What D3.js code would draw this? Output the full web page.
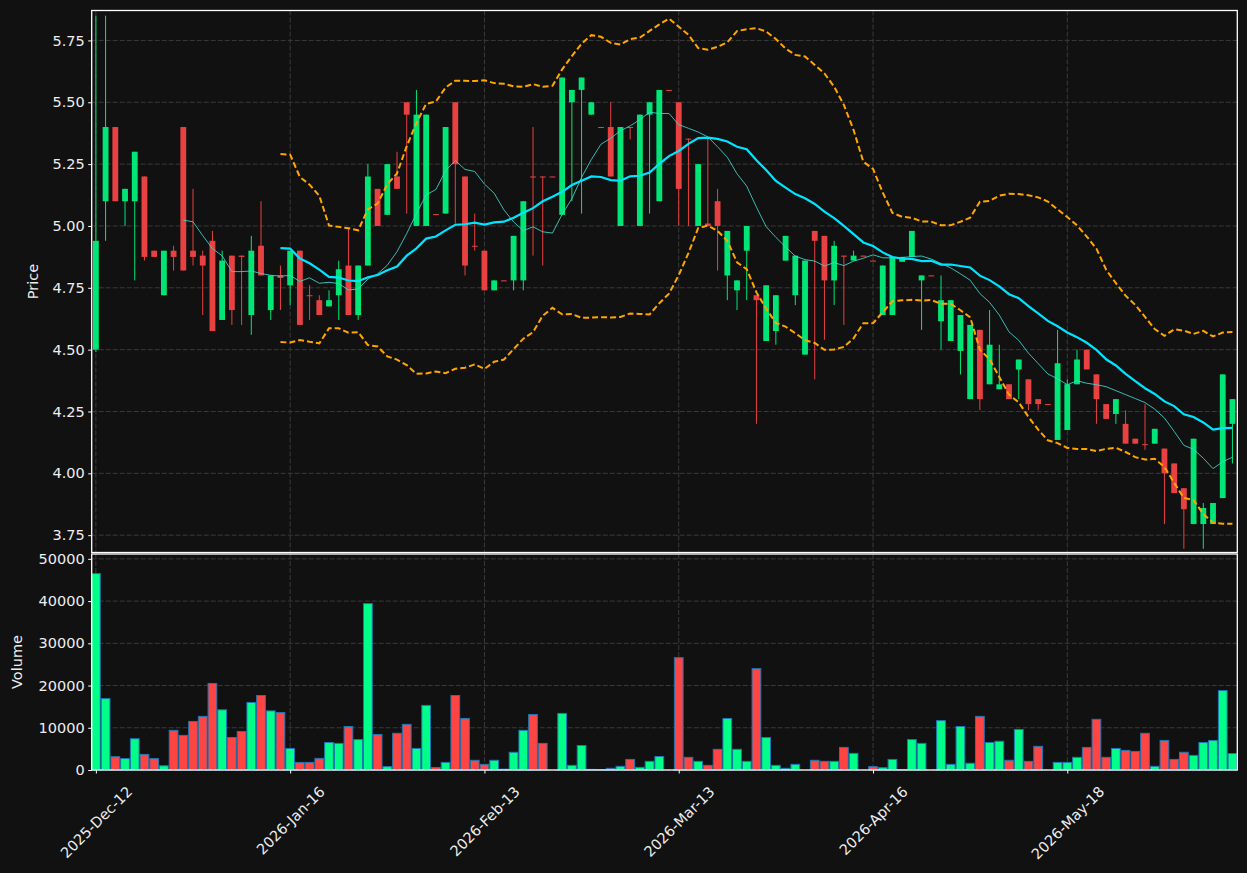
<!DOCTYPE html>
<html>

<head>
  <meta charset="utf8">
  <script src="https://d3js.org/d3.v7.min.js"></script>
  <style>
    body {
      margin: 0;
      background: #111111;
    }

    text {
      font-family: 'DejaVu Sans', sans-serif;
      font-size: 14.5px;
      fill: #eeeeee;
    }

    .grid line {
      stroke: #3a3a3a;
      stroke-width: 1;
      stroke-dasharray: 5, 2;
    }

    .axis path {
      display: none;
    }

    .axis line {
      stroke: #ffffff;
    }

    .frame {
      fill: none;
      stroke: #ffffff;
      stroke-width: 1.3;
    }
  </style>
</head>

<body>
  <svg id="chart" width="1247" height="873"></svg>
  <script>
    // daily bars
    var opens = [4.50, 5.10, 5.40, 5.10, 5.10, 5.20, 4.90, 4.72, 4.90, 5.40,
      4.90, 4.88, 4.94, 4.62, 4.88, 4.88, 4.64, 4.92, 4.66, 4.80,
      4.76, 4.90, 4.72, 4.70, 4.675, 4.72, 4.84, 4.64, 4.84, 5.15,
      5.045, 5.20, 5.50, 5.00, 5.00, 5.048, 5.05, 5.50, 5.20, 4.92,
      4.90, 4.74, 4.78, 4.78, 4.78, 5.20, 5.20, 5.20, 5.045, 5.50,
      5.55, 5.45, 5.40, 5.40, 5.00, 5.40, 5.00, 5.45, 5.10, 5.55,
      5.50, 5.353, 5.00, 5.01, 5.10, 4.80, 4.74, 4.90, 4.72, 4.535,
      4.575, 4.86, 4.72, 4.48, 4.98, 4.96, 4.78, 4.88, 4.86, 4.88,
      4.86, 4.64, 4.64, 4.855, 4.875, 4.78, 4.80, 4.615, 4.535, 4.495,
      4.30, 4.58, 4.36, 4.34, 4.36, 4.42, 4.38, 4.30, 4.28, 4.135,
      4.175, 4.36, 4.50, 4.40, 4.28, 4.24, 4.20, 4.14, 4.118, 4.12,
      4.10, 4.04, 3.94, 3.795, 3.795, 3.795, 3.90, 4.20];
    var highs = [5.85, 5.85, 5.40, 5.15, 5.30, 5.20, 4.90, 4.90, 4.92, 5.40,
      5.15, 4.90, 4.98, 4.90, 4.88, 4.88, 4.96, 5.10, 4.80, 4.84,
      4.90, 4.90, 4.76, 4.72, 4.74, 4.86, 4.99, 4.84, 5.25, 5.15,
      5.25, 5.30, 5.50, 5.55, 5.45, 5.048, 5.40, 5.50, 5.20, 5.05,
      4.90, 4.78, 4.78, 4.96, 5.10, 5.40, 5.20, 5.20, 5.60, 5.55,
      5.60, 5.50, 5.40, 5.50, 5.40, 5.40, 5.45, 5.50, 5.55, 5.55,
      5.50, 5.353, 5.25, 5.353, 5.15, 4.98, 4.78, 5.00, 4.72, 4.76,
      4.72, 4.96, 4.88, 4.86, 4.98, 4.96, 4.94, 4.88, 4.90, 4.88,
      4.86, 4.84, 4.875, 4.875, 4.98, 4.80, 4.80, 4.80, 4.70, 4.64,
      4.60, 4.58, 4.66, 4.52, 4.36, 4.46, 4.38, 4.30, 4.28, 4.58,
      4.38, 4.50, 4.50, 4.40, 4.28, 4.30, 4.255, 4.14, 4.28, 4.18,
      4.10, 4.04, 3.94, 4.14, 3.88, 3.88, 4.40, 4.30];
    var lows = [4.49, 4.94, 5.10, 5.00, 4.78, 4.86, 4.875, 4.72, 4.82, 4.82,
      4.84, 4.64, 4.575, 4.62, 4.60, 4.60, 4.56, 4.80, 4.62, 4.66,
      4.68, 4.60, 4.62, 4.64, 4.675, 4.62, 4.64, 4.62, 4.84, 5.00,
      5.045, 5.15, 5.05, 5.00, 5.00, 5.045, 5.05, 5.01, 4.80, 4.90,
      4.74, 4.74, 4.778, 4.74, 4.74, 4.88, 4.84, 5.199, 5.045, 5.10,
      5.05, 5.45, 5.399, 5.20, 5.00, 5.35, 5.00, 5.05, 5.10, 5.549,
      5.00, 5.00, 5.00, 5.00, 4.82, 4.70, 4.66, 4.70, 4.20, 4.535,
      4.52, 4.86, 4.68, 4.48, 4.38, 4.54, 4.68, 4.60, 4.86, 4.878,
      4.858, 4.64, 4.64, 4.855, 4.875, 4.58, 4.798, 4.50, 4.535, 4.40,
      4.30, 4.255, 4.36, 4.34, 4.30, 4.30, 4.255, 4.255, 4.278, 4.135,
      4.175, 4.36, 4.42, 4.20, 4.22, 4.20, 4.12, 4.12, 4.095, 4.12,
      3.795, 3.92, 3.695, 3.795, 3.695, 3.795, 3.90, 4.04];
    var closes = [4.94, 5.40, 5.10, 5.15, 5.30, 4.875, 4.875, 4.90, 4.875, 4.82,
      4.875, 4.84, 4.575, 4.86, 4.66, 4.875, 4.90, 4.80, 4.80, 4.79,
      4.90, 4.60, 4.718, 4.64, 4.70, 4.825, 4.64, 4.84, 5.20, 5.00,
      5.25, 5.15, 5.45, 5.45, 5.45, 5.045, 5.40, 5.25, 4.84, 4.918,
      4.74, 4.78, 4.778, 4.96, 5.10, 5.199, 5.199, 5.199, 5.60, 5.55,
      5.60, 5.50, 5.399, 5.20, 5.40, 5.399, 5.45, 5.50, 5.55, 5.549,
      5.15, 5.351, 5.25, 5.00, 5.00, 4.98, 4.78, 5.00, 4.70, 4.76,
      4.72, 4.96, 4.88, 4.86, 4.94, 4.78, 4.92, 4.878, 4.88, 4.878,
      4.858, 4.84, 4.875, 4.875, 4.98, 4.80, 4.798, 4.70, 4.70, 4.64,
      4.60, 4.30, 4.52, 4.36, 4.30, 4.46, 4.28, 4.28, 4.278, 4.445,
      4.36, 4.46, 4.42, 4.30, 4.22, 4.30, 4.12, 4.12, 4.116, 4.18,
      4.00, 3.92, 3.855, 4.14, 3.86, 3.88, 4.40, 4.30];
    var volumes = [46500, 16900, 3150, 2700, 7400, 3700, 2700, 1000, 9400, 8200,
      11500, 12700, 20500, 14250, 7700, 9130, 16000, 17640, 14000, 13600,
      5100, 1800, 1800, 2750, 6500, 6300, 10300, 7200, 39400, 8400,
      800, 8700, 10800, 5100, 15300, 600, 1800, 17640, 12200, 2300,
      1340, 2300, 200, 4200, 9400, 13150, 6300, 0, 13400, 1100,
      5800, 150, 100, 400, 870, 2500, 630, 2050, 3200, 0,
      26600, 3000, 2050, 1100, 4900, 12200, 4900, 2050, 24000, 7700,
      1100, 400, 1340, 0, 2300, 2050, 2050, 5350, 3940, 0,
      800, 550, 2500, 100, 7200, 6300, 0, 11700, 1340, 10300,
      1600, 12700, 6500, 6800, 2300, 9600, 2050, 5600, 0, 1800,
      1800, 3000, 5350, 12000, 3000, 5100, 4650, 4400, 8700, 870,
      7000, 2500, 4200, 3460, 6500, 7000, 18800, 3900];

    var tickIndex = [0, 20, 40, 60, 80, 100];
    var tickLabels = ['2025-Dec-12', '2026-Jan-16', '2026-Feb-13', '2026-Mar-13', '2026-Apr-16', '2026-May-18'];
    var priceTicks = [3.75, 4.00, 4.25, 4.50, 4.75, 5.00, 5.25, 5.50, 5.75];
    var volumeTicks = [0, 10000, 20000, 30000, 40000, 50000];

    var upColor = '#00e676', downColor = '#e84142';
    var volUp = '#00ff88', volDown = '#ff4444';

    var chart = d3.select('#chart');
    var left = 91.7, right = 1237.3;
    var pTop = 10.5, pBottom = 552.5, vTop = 554, vBottom = 770;
    var idx = d3.range(closes.length);

    var x = d3.scaleLinear().domain([-0.43, idx.length - 0.5]).range([left, right]);
    var step = x(1) - x(0);
    var yP = d3.scaleLinear().domain([3.68, 5.871]).range([pBottom, pTop]);
    var yV = d3.scaleLinear().domain([0, d3.max(volumes) * 1.1]).range([vBottom, vTop]);

    chart.append('rect').attr('width', 1247).attr('height', 873).attr('fill', '#111111');

    // indicators from the closes
    function rolling(n, fn) {
      return idx.map((i) => i < n - 1 ? null : fn(closes.slice(i - n + 1, i + 1)));
    }
    var ma10 = rolling(10, d3.mean);
    var ma20 = rolling(20, d3.mean);
    var sd20 = rolling(20, (w) => {
      var m = d3.mean(w);
      return Math.sqrt(d3.mean(w, (v) => (v - m) * (v - m)));
    });
    var bbUp = ma20.map((m, i) => m == null ? null : m + 2 * sd20[i]);
    var bbDn = ma20.map((m, i) => m == null ? null : m - 2 * sd20[i]);

    // grids
    var grid = chart.append('g').attr('class', 'grid');
    grid.selectAll('.gp').data(priceTicks).enter().append('line')
      .attr('x1', left).attr('x2', right)
      .attr('y1', (d) => yP(d)).attr('y2', (d) => yP(d));
    grid.selectAll('.gv').data(volumeTicks).enter().append('line')
      .attr('x1', left).attr('x2', right)
      .attr('y1', (d) => yV(d)).attr('y2', (d) => yV(d));
    grid.selectAll('.gx1').data(tickIndex).enter().append('line')
      .attr('x1', (d) => x(d)).attr('x2', (d) => x(d))
      .attr('y1', pTop).attr('y2', pBottom);
    grid.selectAll('.gx2').data(tickIndex).enter().append('line')
      .attr('x1', (d) => x(d)).attr('x2', (d) => x(d))
      .attr('y1', vTop).attr('y2', vBottom);

    chart.append('clipPath').attr('id', 'pclip').append('rect')
      .attr('x', left).attr('y', pTop).attr('width', right - left).attr('height', pBottom - pTop);

    // candles
    var candles = chart.append('g').attr('clip-path', 'url(#pclip)');
    var bodyW = step * 0.6;
    var col = (i) => closes[i] >= opens[i] ? upColor : downColor;

    candles.selectAll('.wick').data(idx).enter().append('line')
      .attr('x1', (i) => x(i)).attr('x2', (i) => x(i))
      .attr('y1', (i) => yP(highs[i])).attr('y2', (i) => yP(lows[i]))
      .attr('stroke', col).attr('stroke-width', 1);

    candles.selectAll('.body').data(idx).enter().append('rect')
      .attr('x', (i) => x(i) - bodyW / 2)
      .attr('width', bodyW)
      .attr('y', (i) => yP(Math.max(opens[i], closes[i])))
      .attr('height', (i) => Math.max(1, Math.abs(yP(opens[i]) - yP(closes[i]))))
      .attr('fill', col);

    // lines
    var line = d3.line()
      .defined((d) => d != null)
      .x((d, i) => x(i))
      .y((d) => yP(d));

    var lines = chart.append('g').attr('clip-path', 'url(#pclip)').attr('fill', 'none');
    lines.append('path').attr('d', line(bbUp))
      .attr('stroke', '#ffa500').attr('stroke-width', 2).attr('stroke-dasharray', '6,3');
    lines.append('path').attr('d', line(bbDn))
      .attr('stroke', '#ffa500').attr('stroke-width', 2).attr('stroke-dasharray', '6,3');
    lines.append('path').attr('d', line(ma10))
      .attr('stroke', '#40d8d0').attr('stroke-width', 1).attr('opacity', 0.85);
    lines.append('path').attr('d', line(ma20))
      .attr('stroke', '#00e5ff').attr('stroke-width', 2.2);

    // volume
    var barW = step * 0.9;
    chart.append('g').selectAll('rect').data(idx).enter().append('rect')
      .attr('x', (i) => x(i) - barW / 2)
      .attr('width', barW)
      .attr('y', (i) => yV(volumes[i]))
      .attr('height', (i) => vBottom - yV(volumes[i]))
      .attr('fill', (i) => closes[i] >= opens[i] ? volUp : volDown)
      .attr('stroke', '#1f77b4').attr('stroke-width', 1);

    // axes
    chart.append('g').attr('class', 'axis')
      .attr('transform', 'translate(' + left + ',0)')
      .call(d3.axisLeft(yP).tickValues(priceTicks).tickFormat(d3.format('.2f')).tickSize(3.5).tickPadding(3.5));

    chart.append('g').attr('class', 'axis')
      .attr('transform', 'translate(' + left + ',0)')
      .call(d3.axisLeft(yV).tickValues(volumeTicks).tickFormat(d3.format('d')).tickSize(3.5).tickPadding(3.5));

    var xAxis = chart.append('g').attr('class', 'axis')
      .attr('transform', 'translate(0,' + vBottom + ')')
      .call(d3.axisBottom(x).tickValues(tickIndex).tickFormat((d, i) => tickLabels[i]).tickSize(3.5));

    xAxis.selectAll('text')
      .attr('y', 0)
      .attr('dy', '0.35em')
      .attr('text-anchor', 'middle')
      .attr('transform', function () {
        var w = this.getComputedTextLength();
        var off = 13 + (w + 17) / (2 * Math.SQRT2);
        return 'translate(0,' + off + ') rotate(-45)';
      });

    chart.selectAll('.axis text').style('font-size', '14.5px');

    // frames
    chart.append('rect').attr('class', 'frame')
      .attr('x', left).attr('y', pTop).attr('width', right - left).attr('height', pBottom - pTop);
    chart.append('rect').attr('class', 'frame')
      .attr('x', left).attr('y', vTop).attr('width', right - left).attr('height', vBottom - vTop);

    // axis titles
    chart.append('text')
      .attr('transform', 'translate(33,' + (pTop + pBottom) / 2 + ') rotate(-90)')
      .attr('text-anchor', 'middle').attr('dy', '0.35em')
      .text('Price');
    chart.append('text')
      .attr('transform', 'translate(17,' + (vTop + vBottom) / 2 + ') rotate(-90)')
      .attr('text-anchor', 'middle').attr('dy', '0.35em')
      .text('Volume');
  </script>
</body>

</html>
